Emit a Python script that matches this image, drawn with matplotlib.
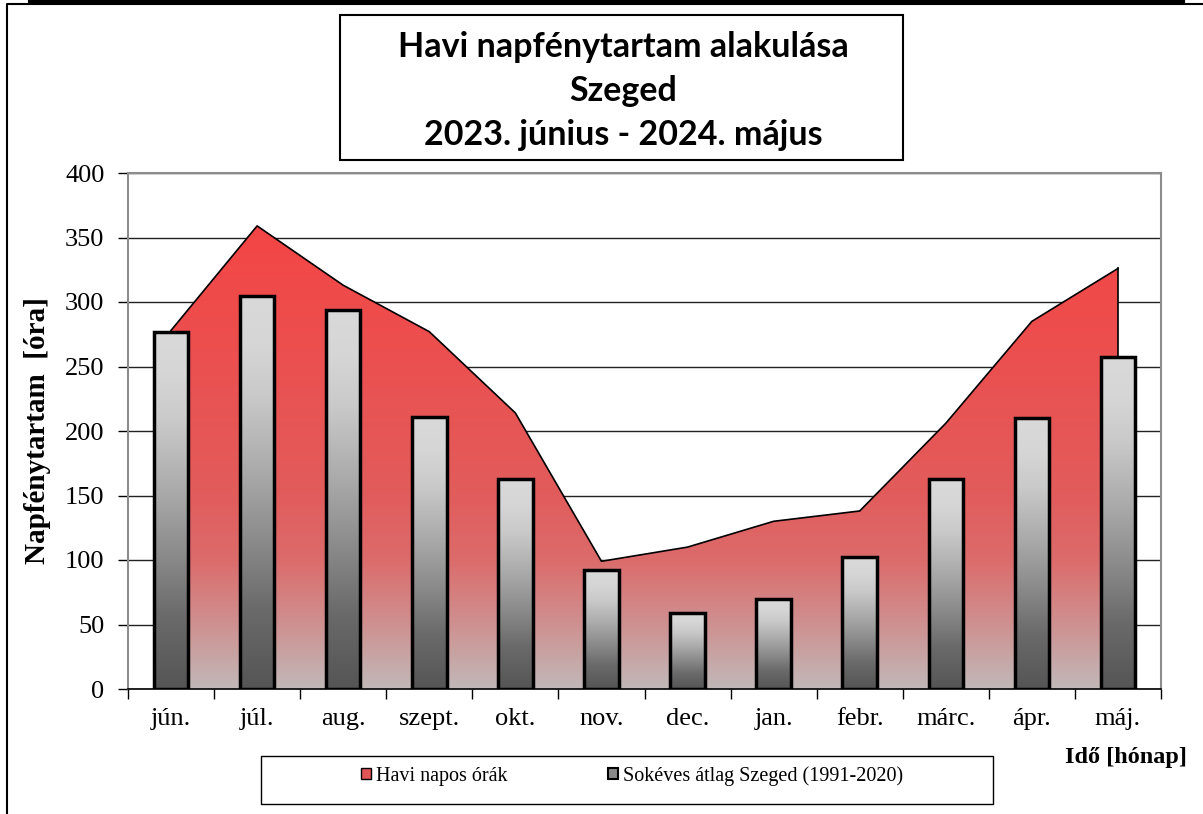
import numpy as np
import matplotlib

matplotlib.use("Agg")
import matplotlib.pyplot as plt
from matplotlib.colors import LinearSegmentedColormap
from matplotlib.patches import Rectangle, Patch
from matplotlib.lines import Line2D

# monthly sunshine hours, Szeged 2023-06 .. 2024-05
months = ["jún.", "júl.", "aug.", "szept.", "okt.", "nov.",
          "dec.", "jan.", "febr.", "márc.", "ápr.", "máj."]
havi_orak = [278, 359, 313, 277, 214, 99, 110, 130, 138, 206, 285, 326]
sokeves_atlag = [277, 305, 294, 211, 163, 92, 59, 70, 102, 163, 210, 257]
yticks = [0, 50, 100, 150, 200, 250, 300, 350, 400]

title_lines = "Havi napfénytartam alakulása\nSzeged\n2023. június - 2024. május"
legend_labels = ["Havi napos órák", "Sokéves átlag Szeged (1991-2020)"]

W, H = 1203, 814
fig = plt.figure(figsize=(W / 100, H / 100), dpi=100)


def fx(px):
    return px / W


def fy(py):
    return 1 - py / H


ax_l, ax_r, ax_t, ax_b = 128, 1161, 173, 689
ax = fig.add_axes([fx(ax_l), fy(ax_b), fx(ax_r) - fx(ax_l), fy(ax_t) - fy(ax_b)])

red_cmap = LinearSegmentedColormap.from_list(
    "redfade",
    [(0.0, "#c1b8b8"), (0.14, "#cf9090"), (0.28, "#dc6b6b"),
     (0.42, "#e25c5c"), (0.7, "#eb5050"), (1.0, "#f44545")],
)
gray_cmap = LinearSegmentedColormap.from_list(
    "grayfade",
    [(0.0, "#555555"), (0.2, "#6a6a6a"), (0.36, "#888888"),
     (0.54, "#a8a8a8"), (0.75, "#cacaca"), (0.88, "#d6d6d6"), (1.0, "#d9d9d9")],
)
grad = np.linspace(0, 1, 256).reshape(-1, 1)

x = np.arange(len(months))

# area series with vertical gradient, clipped to its polygon
poly_x = np.concatenate([[x[0]], x, [x[-1]]])
poly_y = np.concatenate([[0], havi_orak, [0]])
(area,) = ax.fill(poly_x, poly_y, facecolor="none", edgecolor="none", zorder=2)
img = ax.imshow(grad, cmap=red_cmap, origin="lower", aspect="auto",
                extent=[x[0], x[-1], 0, max(havi_orak)], zorder=2)
img.set_clip_path(area)
ax.plot(x, havi_orak, color="black", lw=1.2, zorder=3)
ax.plot([x[-1], x[-1]], [0, havi_orak[-1]], color="black", lw=1.2, zorder=3)

# bars with gradient
bw = 0.4
for xi, h in zip(x, sokeves_atlag):
    ax.imshow(grad, cmap=gray_cmap, origin="lower", aspect="auto",
              extent=[xi - bw / 2, xi + bw / 2, 0, h], zorder=4)
ax.bar(x, sokeves_atlag, width=bw, facecolor="none", edgecolor="black",
       linewidth=2.5, zorder=5)

ax.set_xlim(-0.5, len(months) - 0.5)
ax.set_ylim(0, 400)
ax.set_yticks(yticks)
ax.set_xticks(x)
ax.set_xticklabels(months)
ax.set_xticks(np.arange(len(months) + 1) - 0.5, minor=True)
ax.tick_params(axis="x", which="major", length=0, pad=14)
ax.tick_params(axis="x", which="minor", length=7, width=1, direction="out")
ax.tick_params(axis="y", length=7, width=1, direction="out", pad=10)
ax.tick_params(axis="both", which="major", labelsize=19,
               labelfontfamily="Liberation Serif")

ax.grid(axis="y", color="#222222", lw=1, zorder=1)
ax.set_axisbelow(True)
for side in ("top", "right", "left"):
    ax.spines[side].set_color("#8c8c8c")
    ax.spines[side].set_linewidth(1.5)
ax.spines["bottom"].set_color("black")
ax.spines["bottom"].set_linewidth(1.2)
ax.spines["bottom"].set_zorder(6)

ax.set_ylabel("Napfénytartam  [óra]", fontfamily="Liberation Serif",
              fontsize=21, fontweight="bold")
ax.yaxis.set_label_coords((51 - ax_l) / (ax_r - ax_l), 0.5)

fig.text(fx(1187), fy(757), "Idő [hónap]", ha="right", va="center",
         fontfamily="Liberation Serif", fontsize=17.5, fontweight="bold")

# title box
fig.patches.append(Rectangle((fx(340), fy(160)), fx(903) - fx(340), fy(15) - fy(160),
                             transform=fig.transFigure, facecolor="white",
                             edgecolor="black", lw=1.5, zorder=0))
fig.text(fx(623), fy(91), title_lines, ha="center", va="center",
         fontfamily=["Lato", "DejaVu Sans"], fontsize=24.5,
         fontweight="bold", linespacing=1.48)

# legend box
fig.patches.append(Rectangle((fx(261), fy(804)), fx(993) - fx(261), fy(756) - fy(804),
                             transform=fig.transFigure, facecolor="white",
                             edgecolor="black", lw=1, zorder=0))
handles = [Patch(facecolor="#e05555", edgecolor="black", lw=1),
           Patch(facecolor="#8a8a8a", edgecolor="black", lw=1.5)]
fig.legend(handles, legend_labels, loc="center", ncol=2, frameon=False,
           bbox_to_anchor=(fx(632), fy(776)),
           prop={"family": "Liberation Serif", "size": 14.5},
           handlelength=0.5, handleheight=0.5, handletextpad=0.25,
           columnspacing=5.0)

# outer frame lines
fig.add_artist(Line2D([fx(7), fx(7), fx(1203)], [fy(H), fy(4), fy(4)],
                      transform=fig.transFigure, color="black", lw=1.5))
fig.add_artist(Line2D([fx(30), fx(30), fx(1183), fx(1183)], [fy(0), fy(2), fy(2), fy(0)],
                      transform=fig.transFigure, color="black", lw=3))

fig.savefig("out.png", dpi=100)
